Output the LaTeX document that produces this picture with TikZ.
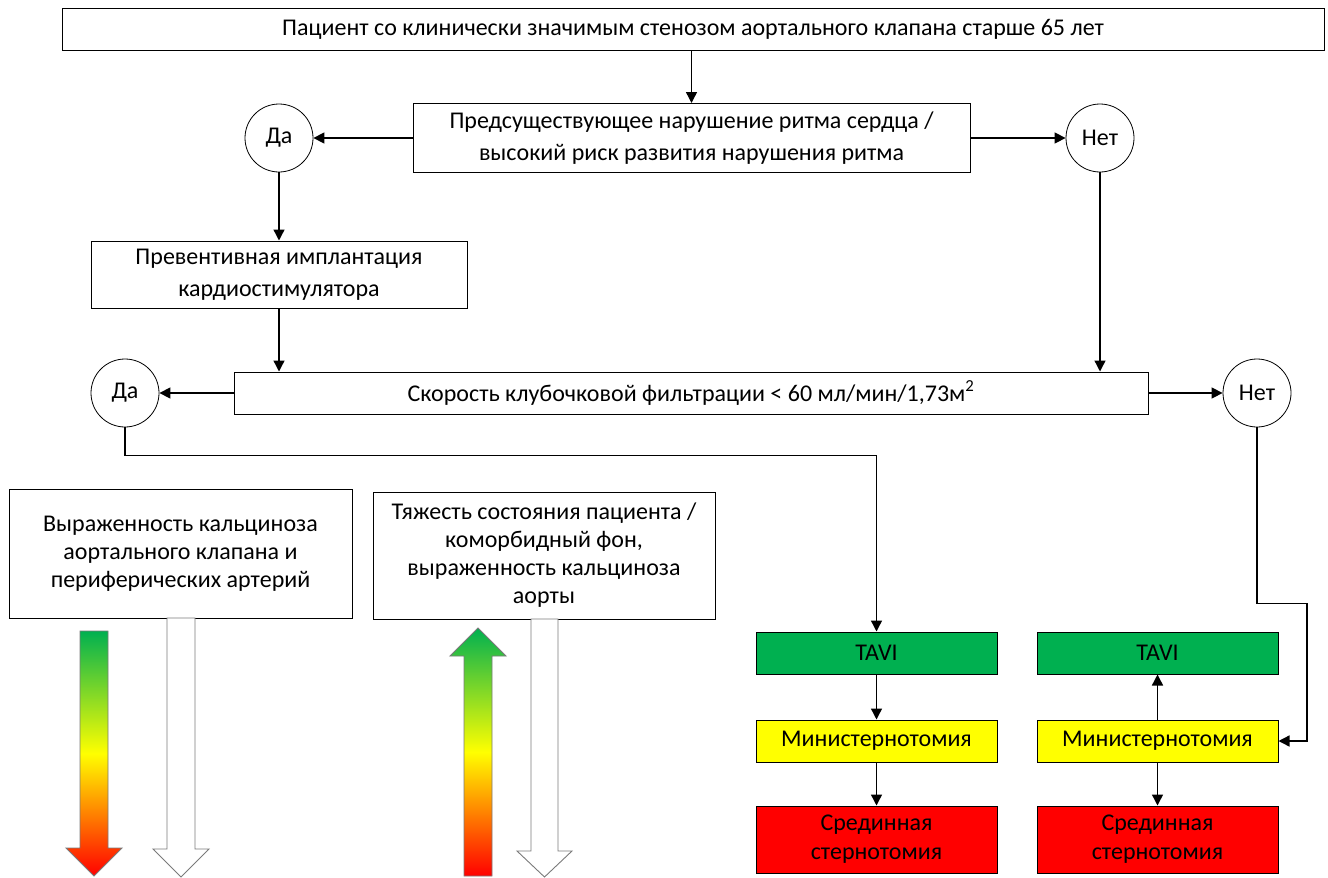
\documentclass[tikz,border=0pt]{standalone}
\usepackage{fontspec}
\setmainfont{Carlito}
\usetikzlibrary{positioning,arrows.meta,calc}
\definecolor{tgreen}{HTML}{00B050}
\definecolor{tyellow}{HTML}{FFFF00}
\definecolor{tred}{HTML}{FF0000}
\definecolor{edge}{HTML}{7A7A7A}

\begin{document}
\begin{tikzpicture}[x=1pt,y=-1pt,font=\fontsize{24}{28}\selectfont,
  box/.style={draw,line width=1pt,align=center,inner sep=2pt},
  yesno/.style={draw,line width=0.8pt,circle,minimum size=68pt,inner sep=0pt},
  arr/.style={line width=1.4pt,-{Triangle[length=11pt,width=11pt]}},
  fat/.style={draw=edge,line width=0.9pt}]
\useasboundingbox (0,0) rectangle (1328,878);
% decision chain
\node[box,minimum width=1262pt,minimum height=42pt] (patient) at (693,29)
  {Пациент со клинически значимым стенозом аортального клапана старше 65 лет};
\node[box,minimum width=557pt,minimum height=69pt] (rhythm) at (691.5,138)
  {Предсуществующее нарушение ритма сердца /\\[4pt]высокий риск развития нарушения ритма};
\node[yesno] (yes1) at (279,138) {Да};
\node[yesno] (no1) at (1100,138) {Нет};
\node[box,minimum width=376pt,minimum height=67pt] (pacer) at (279,274.5)
  {Превентивная имплантация\\[4pt]кардиостимулятора};
\node[box,minimum width=914pt,minimum height=42pt] (gfr) at (691,393)
  {Скорость клубочковой фильтрации < 60 мл/мин/1,73м\textsuperscript{2}};
\node[yesno] (yes2) at (125,393) {Да};
\node[yesno] (no2) at (1257,393) {Нет};
% scales
\node[box,minimum width=343pt,minimum height=129pt] (calc) at (180.5,553.5)
  {Выраженность кальциноза\\аортального клапана и\\периферических артерий};
\node[box,minimum width=342pt,minimum height=127pt] (state) at (544,555.5)
  {Тяжесть состояния пациента /\\коморбидный фон,\\выраженность кальциноза\\аорты};
% access options
\foreach \col/\cx in {1/876.5,2/1157.5}{
  \node[box,fill=tgreen,minimum width=241pt,minimum height=42pt] (tavi\col) at (\cx,653) {TAVI};
  \node[box,fill=tyellow,minimum width=241pt,minimum height=42pt] (mini\col) at (\cx,741) {Министернотомия};
  \node[box,fill=tred,minimum width=241pt,minimum height=67pt] (sred\col) at (\cx,839.5) {Срединная\\[1pt]стернотомия};
}
% connectors
\draw[arr] (rhythm.north |- patient.south) -- (rhythm.north);
\draw[arr] (rhythm) -- (yes1);
\draw[arr] (rhythm) -- (no1);
\draw[arr] (yes1) -- (pacer);
\draw[arr] (pacer.south) -- (pacer.south |- gfr.north);
\draw[arr] (no1) -- (no1 |- gfr.north);
\draw[arr] (gfr) -- (yes2);
\draw[arr] (gfr) -- (no2);
\draw[arr] (yes2.south) -- ++(0,28) -| (tavi1.north);
\draw[arr] (no2.south) -- ++(0,176) -- ++(50,0) |- (mini2.east);
\draw[arr] (tavi1) -- (mini1);
\draw[arr] (mini1) -- (sred1);
\draw[arr] (mini2) -- (tavi2);
\draw[arr] (mini2) -- (sred2);
% block arrows
\shade[fat,top color=tgreen,bottom color=tred,middle color=tyellow]
  (80,631) -- (108,631) -- (108,848) -- (122,848) -- (94,876) -- (66,848) -- (80,848) -- cycle;
\draw[fat,fill=white]
  (167,618) -- (195,618) -- (195,849) -- (209,849) -- (181,877) -- (153,849) -- (167,849) -- cycle;
\shade[fat,top color=tgreen,bottom color=tred,middle color=tyellow]
  (464,876) -- (492,876) -- (492,656) -- (506,656) -- (478,628) -- (450,656) -- (464,656) -- cycle;
\draw[fat,fill=white]
  (531,619) -- (558,619) -- (558,851) -- (572,851) -- (544.5,877) -- (517,851) -- (531,851) -- cycle;
\end{tikzpicture}
\end{document}
